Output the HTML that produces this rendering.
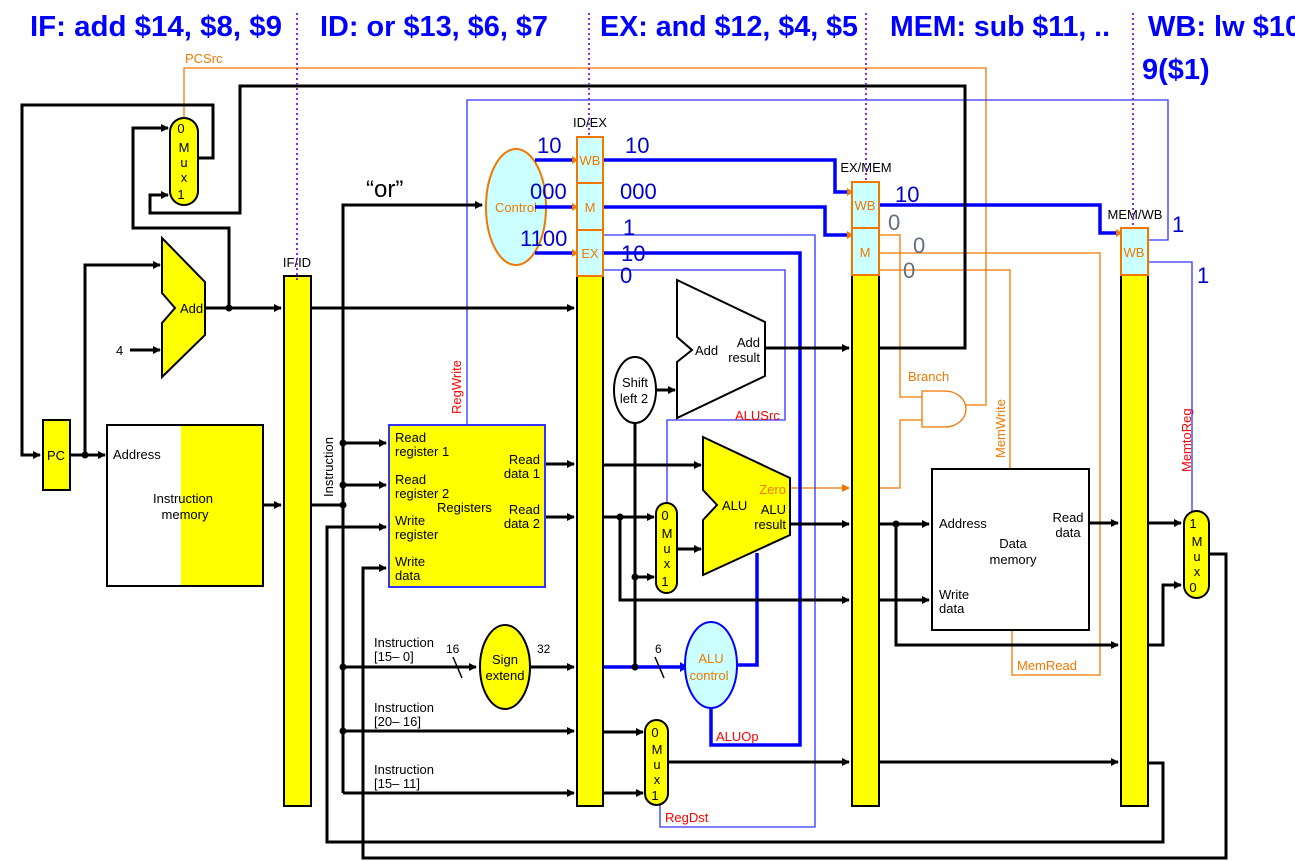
<!DOCTYPE html>
<html><head><meta charset="utf-8"><style>
html,body{margin:0;padding:0;background:#fff}
svg{display:block}
text{font-family:"Liberation Sans",sans-serif}
</style></head><body>
<svg width="1295" height="861" viewBox="0 0 1295 861" xmlns="http://www.w3.org/2000/svg">
<defs>
<marker id="ab" markerWidth="8" markerHeight="8" refX="7" refY="4" orient="auto" markerUnits="userSpaceOnUse"><path d="M0,0 L8,4 L0,8 z" fill="#000"/></marker>
<marker id="ao" markerWidth="8" markerHeight="8" refX="7" refY="4" orient="auto" markerUnits="userSpaceOnUse"><path d="M0,0 L8,4 L0,8 z" fill="#f07800"/></marker>
</defs>

<!-- titles -->
<g font-weight="bold" font-size="29" fill="#0000ff">
<text x="30" y="36" textLength="252" lengthAdjust="spacingAndGlyphs">IF: add $14, $8, $9</text>
<text x="320" y="36" textLength="228" lengthAdjust="spacingAndGlyphs">ID: or $13, $6, $7</text>
<text x="600" y="36" textLength="258" lengthAdjust="spacingAndGlyphs">EX: and $12, $4, $5</text>
<text x="890" y="36" textLength="220" lengthAdjust="spacingAndGlyphs">MEM: sub $11, ..</text>
<text x="1148" y="36">WB: lw $10,</text>
<text x="1142" y="79">9($1)</text>
</g>

<!-- orange PCSrc -->
<g fill="none" stroke="#f07800" stroke-width="1.3">
<path d="M184,125 V68 H986 V405 H966"/>
<path d="M879,235 H900 V397 H922"/>
<path d="M879,488 H900 V420 H922"/>
<path d="M879,253 H1100 V675 H1012 V630"/>
<path d="M879,270 H1010 V468"/>
<path d="M790,488 H849" marker-end="url(#ao)"/>
<path d="M922,391 H945 A21,18 0 0 1 945,427 H922 Z" fill="#fff"/>
</g>
<text x="185" y="63" font-size="13" fill="#f07800">PCSrc</text>
<text x="908" y="381" font-size="13" fill="#f07800">Branch</text>
<text x="1017" y="670" font-size="13" fill="#f07800">MemRead</text>
<text transform="translate(1005,458) rotate(-90)" font-size="13" fill="#f07800">MemWrite</text>
<text transform="translate(1191,472) rotate(-90)" font-size="13" fill="#ff0000">MemtoReg</text>
<text transform="translate(461,414) rotate(-90)" font-size="13" fill="#ff0000">RegWrite</text>

<!-- thin blue -->
<g fill="none" stroke="#3333ff" stroke-width="1.3">
<path d="M467,425 V100 H1168 V240 H1148"/>
<path d="M603,235 H815 V827 H660 V805"/>
<path d="M603,270 H785 V420 H667 V503"/>
<path d="M1148,262 H1192 V511"/>
</g>

<!-- control -->
<ellipse cx="516" cy="207" rx="30" ry="58" fill="#ccffff" stroke="#f07800" stroke-width="2"/>
<text x="516" y="212" font-size="13" fill="#f07800" text-anchor="middle">Control</text>

<!-- thick blue -->
<g fill="none" stroke="#0000ff" stroke-width="3.5">
<path d="M535,160 H572"/><path d="M535,207 H572"/><path d="M535,253 H572"/>
<path d="M603,160 H835 V192 H848"/>
<path d="M603,207 H825 V235 H848"/>
<path d="M603,253 H800 V745 H711 V708"/>
<path d="M879,205 H1100 V233 H1117"/>
<path d="M603,667 H681"/>
<path d="M737,665 H757 V553"/>
</g>
<g fill="#f07800">
<path d="M572,156 L578,160 L572,164z"/><path d="M572,203 L578,207 L572,211z"/><path d="M572,249 L578,253 L572,257z"/>
<path d="M847,188 L853,192 L847,196z"/><path d="M847,231 L853,235 L847,239z"/><path d="M1116,229 L1122,233 L1116,237z"/>
</g>
<path d="M680,662 L688,667 L680,672z" fill="#00f"/>

<!-- control numbers -->
<g fill="#0000cc" font-size="22">
<text x="537" y="153">10</text><text x="530" y="199">000</text><text x="520" y="246">1100</text>
<text x="625" y="153">10</text><text x="620" y="199">000</text>
<text x="623" y="235">1</text><text x="621" y="261">10</text><text x="620" y="283">0</text>
<text x="895" y="202">10</text>
<text x="1172" y="232">1</text><text x="1197" y="283">1</text>
</g>
<g fill="#607080" font-size="22">
<text x="888" y="230">0</text><text x="913" y="253">0</text><text x="903" y="278">0</text>
</g>

<!-- black wires -->
<g fill="none" stroke="#000" stroke-width="3">
<path d="M198,158 H213 V105 H22 V455 H40" marker-end="url(#ab)"/>
<path d="M229,308 V228 H133 V128 H168" marker-end="url(#ab)"/>
<path d="M880,348 H965 V86 H240 V213 H150 V195 H168" marker-end="url(#ab)"/>
<path d="M205,308 H281" marker-end="url(#ab)"/>
<path d="M85,455 V265 H160" marker-end="url(#ab)"/>
<path d="M130,350 H160" marker-end="url(#ab)"/>
<path d="M70,455 H105" marker-end="url(#ab)"/>
<path d="M263,505 H281" marker-end="url(#ab)"/>
<path d="M311,308 H574" marker-end="url(#ab)"/>
<path d="M311,505 H343"/>
<path d="M343,793 V205 H482" marker-end="url(#ab)"/>
<path d="M343,443 H386" marker-end="url(#ab)"/>
<path d="M343,485 H386" marker-end="url(#ab)"/>
<path d="M343,667 H476" marker-end="url(#ab)"/>
<path d="M343,731 H574" marker-end="url(#ab)"/>
<path d="M343,793 H574" marker-end="url(#ab)"/>
<path d="M1148,763 H1163 V842 H327 V527 H386" marker-end="url(#ab)"/>
<path d="M1210,554 H1226 V858 H363 V568 H386" marker-end="url(#ab)"/>
<path d="M545,464 H574" marker-end="url(#ab)"/>
<path d="M545,517 H574" marker-end="url(#ab)"/>
<path d="M530,667 H574" marker-end="url(#ab)"/>
<path d="M603,465 H701" marker-end="url(#ab)"/>
<path d="M603,517 H654" marker-end="url(#ab)"/>
<path d="M620,517 V600 H849" marker-end="url(#ab)"/>
<path d="M635,423 V667"/>
<path d="M635,577 H654" marker-end="url(#ab)"/>
<path d="M656,390 H675" marker-end="url(#ab)"/>
<path d="M677,549 H701" marker-end="url(#ab)"/>
<path d="M765,348 H849" marker-end="url(#ab)"/>
<path d="M790,524 H849" marker-end="url(#ab)"/>
<path d="M604,732 H643" marker-end="url(#ab)"/>
<path d="M604,793 H643" marker-end="url(#ab)"/>
<path d="M668,762 H849" marker-end="url(#ab)"/>
<path d="M879,524 H929" marker-end="url(#ab)"/>
<path d="M896,524 V645 H1118" marker-end="url(#ab)"/>
<path d="M879,600 H929" marker-end="url(#ab)"/>
<path d="M879,762 H1118" marker-end="url(#ab)"/>
<path d="M1089,523 H1118" marker-end="url(#ab)"/>
<path d="M1148,523 H1181" marker-end="url(#ab)"/>
<path d="M1148,645 H1163 V585 H1181" marker-end="url(#ab)"/>
</g>
<g stroke="#000" stroke-width="1.5">
<line x1="453" y1="657" x2="462" y2="678"/><line x1="520" y1="657" x2="529" y2="678"/><line x1="655" y1="657" x2="664" y2="678"/>
</g>
<g fill="#000">
<circle cx="229" cy="308" r="3.5"/><circle cx="85" cy="455" r="3.5"/><circle cx="343" cy="505" r="3.5"/>
<circle cx="343" cy="443" r="3.5"/><circle cx="343" cy="485" r="3.5"/><circle cx="343" cy="667" r="3.5"/>
<circle cx="343" cy="731" r="3.5"/><circle cx="620" cy="517" r="3.5"/><circle cx="635" cy="577" r="3.5"/>
<circle cx="635" cy="667" r="3.5"/><circle cx="896" cy="524" r="3.5"/>
</g>

<!-- IF mux -->
<rect x="170" y="118" width="28" height="87" rx="14" fill="#ffff00" stroke="#000" stroke-width="2"/>
<g font-size="13" text-anchor="middle"><text x="181" y="133">0</text><text x="184" y="152">M</text><text x="184" y="167">u</text><text x="184" y="182">x</text><text x="181" y="199">1</text></g>
<!-- IF add -->
<polygon points="162,238 205,282 205,335 162,377 162,323 175,308 162,293" fill="#ffff00" stroke="#000" stroke-width="2"/>
<text x="180" y="313" font-size="13">Add</text>
<text x="116" y="355" font-size="13">4</text>
<!-- PC -->
<rect x="43" y="420" width="27" height="70" fill="#ffff00" stroke="#000" stroke-width="2"/>
<text x="56" y="460" font-size="13" text-anchor="middle">PC</text>
<!-- Instr memory -->
<rect x="181" y="425" width="82" height="161" fill="#ffff00"/>
<rect x="107" y="425" width="156" height="161" fill="none" stroke="#000" stroke-width="2"/>
<text x="113" y="459" font-size="13">Address</text>
<text x="183" y="503" font-size="13" text-anchor="middle">Instruction</text>
<text x="185" y="519" font-size="13" text-anchor="middle">memory</text>

<!-- pipeline registers -->
<g stroke="#000" stroke-width="2" fill="#ffff00">
<rect x="284" y="276" width="27" height="530"/>
<rect x="577" y="276" width="26" height="530"/>
<rect x="852" y="275" width="27" height="531"/>
<rect x="1121" y="275" width="27" height="531"/>
</g>
<g stroke="#f07800" stroke-width="2" fill="#ccffff">
<rect x="577" y="137" width="26" height="46"/><rect x="577" y="183" width="26" height="47"/><rect x="577" y="230" width="26" height="46"/>
<rect x="852" y="182" width="27" height="46"/><rect x="852" y="228" width="27" height="47"/>
<rect x="1121" y="228" width="27" height="47"/>
</g>
<g fill="#f07800" font-size="13" text-anchor="middle">
<text x="590" y="165">WB</text><text x="590" y="212">M</text><text x="590" y="258">EX</text>
<text x="865" y="210">WB</text><text x="865" y="257">M</text><text x="1134" y="257">WB</text>
</g>
<g font-size="13" text-anchor="middle">
<text x="297" y="267">IF/ID</text><text x="590" y="127">ID/EX</text><text x="866" y="172">EX/MEM</text><text x="1135" y="219">MEM/WB</text>
</g>
<text transform="translate(333,497) rotate(-90)" font-size="13">Instruction</text>
<text x="366" y="197" font-size="24">“or”</text>

<!-- registers -->
<rect x="389" y="425" width="156" height="162" fill="#ffff00" stroke="#3333ff" stroke-width="2"/>
<g font-size="13">
<text x="395" y="442">Read</text><text x="395" y="456">register 1</text>
<text x="395" y="484">Read</text><text x="395" y="498">register 2</text>
<text x="437" y="512">Registers</text>
<text x="395" y="525">Write</text><text x="395" y="539">register</text>
<text x="395" y="566">Write</text><text x="395" y="580">data</text>
</g>
<g font-size="13" text-anchor="end">
<text x="540" y="464">Read</text><text x="540" y="478">data 1</text>
<text x="540" y="514">Read</text><text x="540" y="528">data 2</text>
</g>

<!-- sign extend -->
<ellipse cx="505" cy="667" rx="25" ry="42" fill="#ffff00" stroke="#000" stroke-width="2"/>
<text x="505" y="664" font-size="13" text-anchor="middle">Sign</text>
<text x="505" y="680" font-size="13" text-anchor="middle">extend</text>
<g font-size="12"><text x="446" y="653">16</text><text x="537" y="653">32</text><text x="655" y="653">6</text></g>
<g font-size="13">
<text x="374" y="647">Instruction</text><text x="374" y="661">[15– 0]</text>
<text x="374" y="712">Instruction</text><text x="374" y="726">[20– 16]</text>
<text x="374" y="774">Instruction</text><text x="374" y="788">[15– 11]</text>
</g>

<!-- EX add -->
<polygon points="677,280 765,322 765,376 677,418 677,362 692,350 677,337" fill="#fff" stroke="#000" stroke-width="2"/>
<text x="695" y="355" font-size="13">Add</text>
<text x="760" y="347" font-size="13" text-anchor="end">Add</text>
<text x="760" y="362" font-size="13" text-anchor="end">result</text>
<!-- shift left -->
<ellipse cx="635" cy="390" rx="21" ry="33" fill="#fff" stroke="#000" stroke-width="2"/>
<text x="635" y="387" font-size="13" text-anchor="middle">Shift</text>
<text x="634" y="403" font-size="13" text-anchor="middle">left 2</text>
<text x="735" y="420" font-size="13" fill="#ff0000">ALUSrc</text>

<!-- ALU -->
<polygon points="703,437 790,478 790,535 703,575 703,520 717,505 703,490" fill="#ffff00" stroke="#000" stroke-width="2"/>
<text x="722" y="510" font-size="13">ALU</text>
<text x="786" y="494" font-size="13" fill="#f07800" text-anchor="end">Zero</text>
<text x="786" y="514" font-size="13" text-anchor="end">ALU</text>
<text x="786" y="529" font-size="13" text-anchor="end">result</text>
<!-- ALUSrc mux -->
<rect x="656" y="503" width="21" height="90" rx="10.5" fill="#ffff00" stroke="#000" stroke-width="2"/>
<g font-size="13" text-anchor="middle"><text x="665" y="520">0</text><text x="667" y="538">M</text><text x="667" y="553">u</text><text x="667" y="568">x</text><text x="665" y="586">1</text></g>
<!-- ALU control -->
<ellipse cx="711" cy="665" rx="26" ry="43" fill="#ccffff" stroke="#0000ff" stroke-width="2"/>
<text x="711" y="663" font-size="13" fill="#f07800" text-anchor="middle">ALU</text>
<text x="709" y="680" font-size="13" fill="#f07800" text-anchor="middle">control</text>
<text x="716" y="741" font-size="13" fill="#ff0000">ALUOp</text>
<!-- RegDst mux -->
<rect x="645" y="720" width="23" height="85" rx="11.5" fill="#ffff00" stroke="#000" stroke-width="2"/>
<g font-size="13" text-anchor="middle"><text x="655" y="737">0</text><text x="657" y="754">M</text><text x="657" y="769">u</text><text x="657" y="784">x</text><text x="655" y="800">1</text></g>
<text x="665" y="822" font-size="13" fill="#ff0000">RegDst</text>

<!-- data memory -->
<rect x="932" y="469" width="157" height="161" fill="#fff" stroke="#000" stroke-width="2"/>
<g font-size="13">
<text x="939" y="528">Address</text>
<text x="1013" y="548" text-anchor="middle">Data</text><text x="1013" y="564" text-anchor="middle">memory</text>
<text x="1068" y="522" text-anchor="middle">Read</text><text x="1068" y="537" text-anchor="middle">data</text>
<text x="939" y="599">Write</text><text x="939" y="613">data</text>
</g>
<!-- WB mux -->
<rect x="1184" y="511" width="25" height="87" rx="12.5" fill="#ffff00" stroke="#000" stroke-width="2"/>
<g font-size="13" text-anchor="middle"><text x="1193" y="528">1</text><text x="1197" y="546">M</text><text x="1197" y="561">u</text><text x="1197" y="576">x</text><text x="1193" y="592">0</text></g>

<!-- dotted stage lines -->
<g stroke="#8a2be2" stroke-width="2" stroke-dasharray="2,3">
<line x1="297" y1="13" x2="297" y2="283"/>
<line x1="589" y1="13" x2="589" y2="137"/>
<line x1="866" y1="13" x2="866" y2="182"/>
<line x1="1133" y1="13" x2="1133" y2="228"/>
</g>
</svg>
</body></html>
